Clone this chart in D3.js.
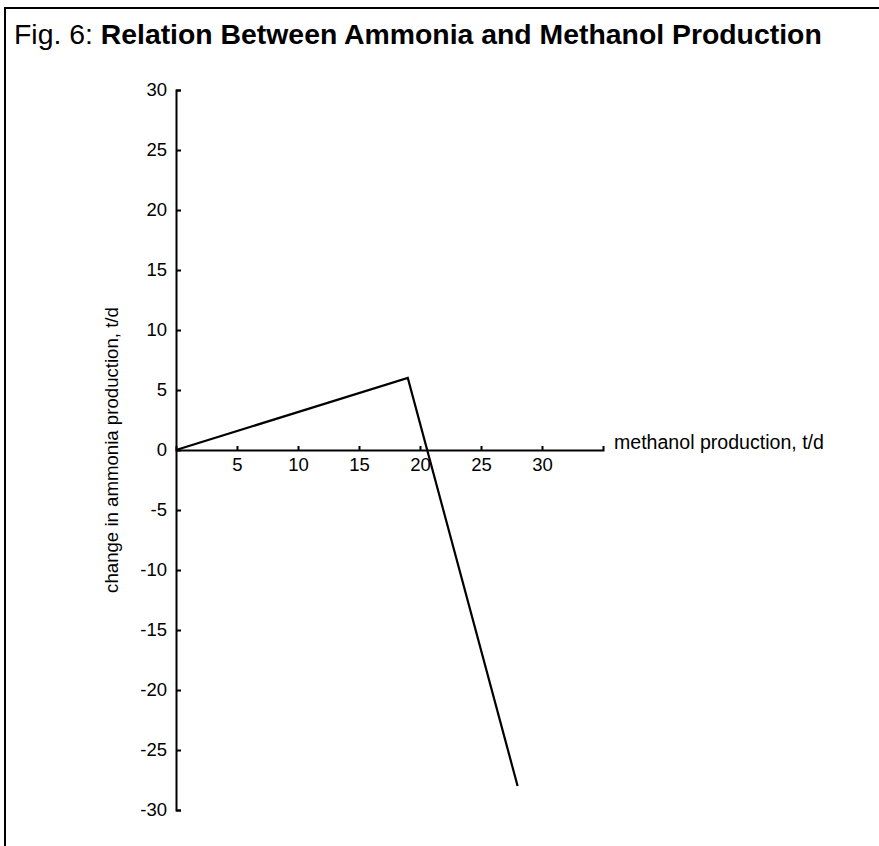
<!DOCTYPE html>
<html>
<head>
<meta charset="utf-8">
<script src="https://cdn.jsdelivr.net/npm/d3@7"></script>
<style>
  html, body { margin: 0; padding: 0; background: #fff; }
  svg text { font-family: "Liberation Sans", Arial, Helvetica, sans-serif; fill: #000; }
</style>
</head>
<body>
<svg id="chart" width="879" height="846"></svg>
<script>
// ---- data ----
const titlePrefix = "Fig. 6: ";
const titleMain = "Relation Between Ammonia and Methanol Production";
const xLabel = "methanol production, t/d";
const yLabel = "change in ammonia production, t/d";
const xTickValues = [5, 10, 15, 20, 25, 30];
const yTickValues = [-30, -25, -20, -15, -10, -5, 0, 5, 10, 15, 20, 25, 30];
const methanolProduction = [0, 19, 28];
const ammoniaChange = [0, 6, -28];

// ---- drawing ----
const svg = d3.select("#chart");

function fitWidth(sel, base, target) {
  sel.attr("font-size", base);
  const w = sel.node().getComputedTextLength();
  sel.attr("font-size", base * target / w);
}

// frame (left and top border of the figure box)
svg.append("path")
  .attr("d", "M5,846V8H879")
  .attr("fill", "none").attr("stroke", "#000").attr("stroke-width", 2);

// title
const title = svg.append("text").attr("x", 14).attr("y", 44);
title.append("tspan").attr("font-weight", "normal").text(titlePrefix);
title.append("tspan").attr("font-weight", "bold").text(titleMain);
fitWidth(title, 24, 808);

const x = d3.scaleLinear().domain([0, 35]).range([176, 603]);
const y = d3.scaleLinear().domain([-30, 30]).range([810, 90]);

// y axis
const yAxis = d3.axisLeft(y)
  .tickValues(yTickValues)
  .tickSizeInner(-5).tickSizeOuter(-5)
  .tickPadding(9)
  .tickFormat(d => String(d));
const gy = svg.append("g").attr("transform", `translate(${x(0)},0)`).call(yAxis);
gy.selectAll("path, line").attr("stroke", "#000").attr("stroke-width", 2);
gy.selectAll("text").attr("font-size", 18.5).attr("font-family", null);

// x axis
const xAxis = d3.axisBottom(x)
  .tickValues(xTickValues)
  .tickSizeInner(-4).tickSizeOuter(-4)
  .tickPadding(8)
  .tickFormat(d => String(d));
const gx = svg.append("g").attr("transform", `translate(0,${y(0)})`).call(xAxis);
gx.selectAll("path, line").attr("stroke", "#000").attr("stroke-width", 2);
gx.selectAll("text").attr("font-size", 18.5).attr("font-family", null);

// axis titles
const xt = svg.append("text")
  .attr("x", x(35) + 11).attr("y", y(0) - 1)
  .text(xLabel);
fitWidth(xt, 17, 210);

const yt = svg.append("text")
  .attr("transform", `translate(118,${y(0)}) rotate(-90)`)
  .attr("text-anchor", "middle")
  .text(yLabel);
fitWidth(yt, 17, 286);

// data line
const pts = methanolProduction.map((m, i) => [m, ammoniaChange[i]]);
svg.append("path")
  .datum(pts)
  .attr("fill", "none")
  .attr("stroke", "#000")
  .attr("stroke-width", 2.2)
  .attr("stroke-linejoin", "miter")
  .attr("d", d3.line().x(d => x(d[0])).y(d => y(d[1])));
</script>
</body>
</html>
